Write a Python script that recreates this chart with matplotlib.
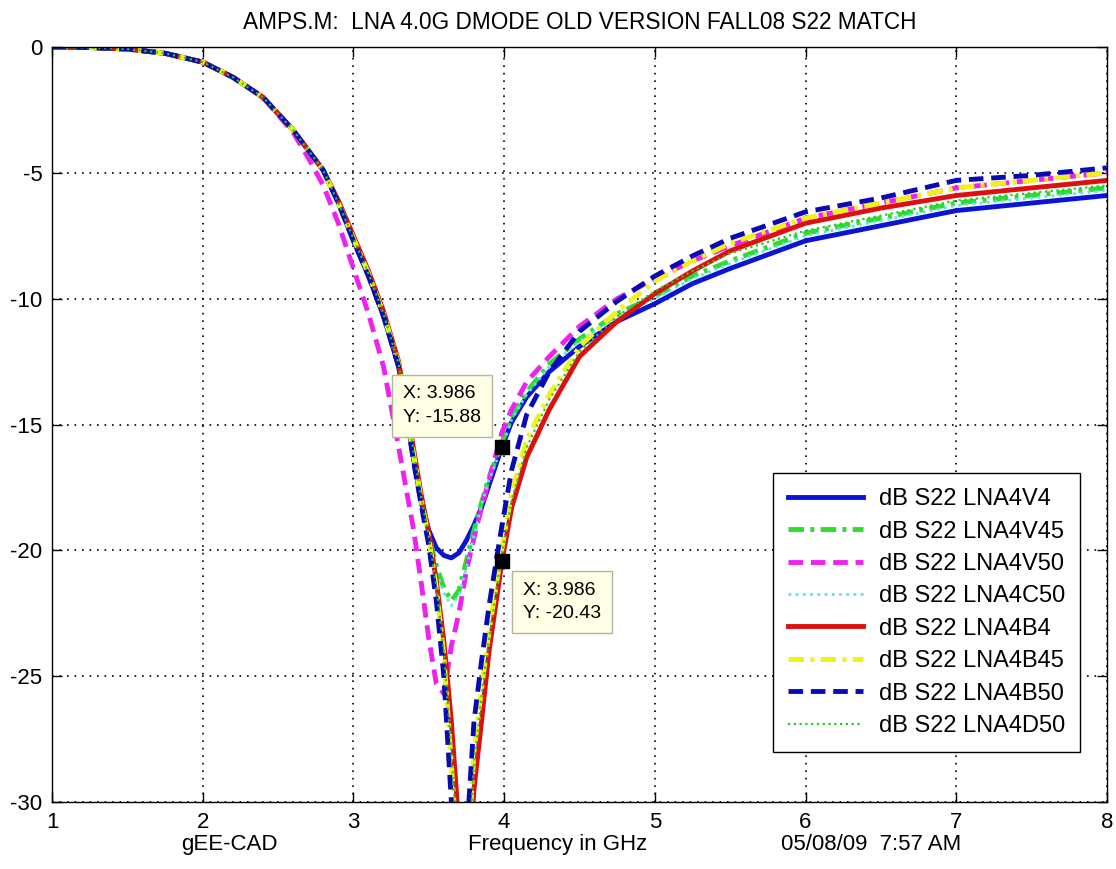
import matplotlib
matplotlib.use("Agg")
import matplotlib.pyplot as plt

plt.rcParams["font.family"] = ["Liberation Sans", "DejaVu Sans"]
plt.rcParams["axes.unicode_minus"] = False

# ── Data ──────────────────────────────────────────────────────────────────────

freq_ghz = [1.0, 1.25, 1.5, 1.75, 2.0, 2.2, 2.4, 2.6, 2.7, 2.8,
            2.9, 3.0, 3.1, 3.2, 3.3, 3.4, 3.45, 3.5, 3.55, 3.6,
            3.65, 3.7, 3.75, 3.8, 3.85, 3.9, 3.986, 4.05, 4.15, 4.3,
            4.5, 4.75, 5.0, 5.25, 5.5, 6.0, 6.5, 7.0, 7.5, 8.0]

s22_lna4v4 = [0.0, -0.02, -0.08, -0.25, -0.6, -1.2, -2.0, -3.3, -4.1, -4.9,
              -6.2, -7.7, -9.1, -10.7, -12.7, -16.4, -18.1, -19.2, -19.9, -20.2,
              -20.3, -20.1, -19.6, -19.0, -18.3, -17.4, -15.88, -14.9, -13.9, -12.9,
              -11.9, -10.9, -10.2, -9.4, -8.8, -7.7, -7.1, -6.5, -6.2, -5.9]

s22_lna4v45 = [0.0, -0.02, -0.08, -0.25, -0.6, -1.2, -2.0, -3.3, -4.1, -4.9,
               -6.2, -7.6, -9.0, -10.6, -12.6, -16.3, -18.0, -19.4, -20.6, -21.5,
               -22.0, -21.6, -20.4, -19.2, -18.1, -17.1, -15.7, -14.7, -13.7, -12.6,
               -11.6, -10.6, -9.9, -9.1, -8.5, -7.4, -6.8, -6.2, -5.9, -5.6]

s22_lna4v50 = [0.0, -0.02, -0.08, -0.25, -0.6, -1.2, -2.0, -3.4, -4.4, -5.5,
               -7.0, -8.8, -10.6, -12.7, -15.9, -19.2, -21.3, -23.5, -25.3, -25.7,
               -23.8, -22.5, -20.8, -19.5, -18.3, -17.2, -15.3, -14.4, -13.3, -12.3,
               -11.1, -10.0, -9.2, -8.5, -7.9, -6.8, -6.2, -5.6, -5.3, -5.0]

s22_lna4c50 = [0.0, -0.02, -0.08, -0.25, -0.6, -1.2, -2.0, -3.3, -4.1, -4.9,
               -6.2, -7.6, -9.0, -10.6, -12.6, -16.3, -18.0, -19.5, -20.8, -21.7,
               -22.2, -21.8, -20.7, -19.4, -18.2, -17.2, -15.9, -14.8, -13.8, -12.7,
               -11.7, -10.7, -10.0, -9.2, -8.6, -7.5, -6.9, -6.3, -6.0, -5.7]

s22_lna4b4 = [0.0, -0.02, -0.08, -0.25, -0.6, -1.2, -2.0, -3.3, -4.1, -4.9,
              -6.1, -7.5, -8.9, -10.5, -12.5, -16.0, -17.8, -19.3, -21.2, -23.6,
              -26.8, -31.0, -34.0, -29.5, -26.8, -24.0, -20.43, -18.3, -16.3, -14.4,
              -12.3, -10.9, -9.8, -8.9, -8.1, -7.0, -6.4, -5.9, -5.6, -5.3]

s22_lna4b45 = [0.0, -0.02, -0.08, -0.25, -0.6, -1.2, -2.0, -3.3, -4.1, -4.9,
               -6.2, -7.6, -9.0, -10.6, -12.6, -16.2, -18.0, -19.5, -21.5, -24.2,
               -28.5, -33.0, -33.0, -28.0, -25.5, -23.2, -19.9, -17.7, -15.6, -13.8,
               -11.9, -10.5, -9.3, -8.5, -7.8, -6.8, -6.2, -5.6, -5.3, -5.0]

s22_lna4b50 = [0.0, -0.02, -0.08, -0.25, -0.6, -1.2, -2.0, -3.3, -4.1, -4.9,
               -6.2, -7.7, -9.1, -10.7, -12.7, -16.5, -18.2, -19.8, -22.0, -25.0,
               -30.0, -35.0, -31.5, -26.8, -24.4, -22.2, -19.0, -16.8, -14.6, -12.9,
               -11.3, -10.1, -9.1, -8.3, -7.6, -6.55, -6.0, -5.3, -5.1, -4.8]

s22_lna4d50 = [0.0, -0.02, -0.08, -0.25, -0.6, -1.2, -2.0, -3.3, -4.1, -4.9,
               -6.2, -7.6, -9.0, -10.6, -12.6, -16.1, -17.9, -19.4, -21.4, -24.0,
               -28.0, -32.5, -33.5, -28.5, -25.8, -23.5, -20.1, -18.0, -15.9, -14.0,
               -12.1, -10.7, -9.7, -8.9, -8.2, -7.3, -6.7, -6.1, -5.8, -5.5]

labels = ["dB S22 LNA4V4", "dB S22 LNA4V45", "dB S22 LNA4V50", "dB S22 LNA4C50",
          "dB S22 LNA4B4", "dB S22 LNA4B45", "dB S22 LNA4B50", "dB S22 LNA4D50"]

tip_x = [3.986, 3.986]
tip_y = [-15.88, -20.43]

# ── Styles (MATLAB-ish) ───────────────────────────────────────────────────────

series = [s22_lna4v4, s22_lna4v45, s22_lna4v50, s22_lna4c50,
          s22_lna4b4, s22_lna4b45, s22_lna4b50, s22_lna4d50]
colors = ["#0a14d2", "#2edc2e", "#ee22ee", "#55e6f0",
          "#dd1010", "#f2f21a", "#0a0ab4", "#22cc22"]
dash = (0, (3.0, 1.6))
dashdot = (0, (3.2, 1.3, 0.8, 1.3))
dot = (0, (1.0, 1.6))
styles = ["-", dashdot, dash, dot, "-", dashdot, dash, dot]
widths = [3.5, 3.5, 3.5, 2.0, 3.5, 3.5, 3.5, 1.6]

fig = plt.figure(figsize=(11.16, 8.69), dpi=100)
ax = fig.add_axes([0.0466, 0.0771, 0.9453, 0.8688])

for y, lab, c, ls, lw in zip(series, labels, colors, styles, widths):
    ax.plot(freq_ghz, y, color=c, linestyle=ls, linewidth=lw, label=lab)

ax.set_xlim(1, 8)
ax.set_ylim(-30, 0)
ax.set_xticks(range(1, 9))
ax.set_yticks(range(-30, 1, 5))
ax.tick_params(direction="in", length=7, width=1, top=True, right=True,
               labelsize=16, pad=7)
ax.grid(True, color="black", linestyle=(0, (1, 3.5)), linewidth=1.2)
for sp in ax.spines.values():
    sp.set_linewidth(1.0)

ax.set_title("AMPS.M:  LNA 4.0G DMODE OLD VERSION FALL08 S22 MATCH",
             fontsize=16.3, pad=13)

# bottom captions
ax.set_xlabel("Frequency in GHz", fontsize=16)
ax.xaxis.set_label_coords(0.479, -0.043)
ax.xaxis.label.set_va("top")
ax.text(0.168, -0.043, "gEE-CAD", transform=ax.transAxes,
        ha="center", va="top", fontsize=16)
ax.text(0.776, -0.043, "05/08/09  7:57 AM", transform=ax.transAxes,
        ha="center", va="top", fontsize=16)

# data tips
ax.plot(tip_x, tip_y, "s", color="black", markersize=10, zorder=5)
tip_box = dict(boxstyle="square,pad=0.55", facecolor="#ffffe6",
               edgecolor="#b4b4a0", linewidth=1)
ax.annotate(f"X: {tip_x[0]}\nY: {tip_y[0]}", (tip_x[0], tip_y[0]),
            xytext=(-15, 15), textcoords="offset points", ha="right",
            va="bottom", multialignment="left", linespacing=1.5,
            fontsize=14, bbox=tip_box, zorder=6)
ax.annotate(f"X: {tip_x[1]}\nY: {tip_y[1]}", (tip_x[1], tip_y[1]),
            xytext=(15, -15), textcoords="offset points", ha="left",
            va="top", multialignment="left", linespacing=1.5,
            fontsize=14, bbox=tip_box, zorder=6)

leg = ax.legend(loc="upper left", bbox_to_anchor=(0.683, 0.436),
                borderaxespad=0, fontsize=17, handlelength=3.2,
                handletextpad=0.64, labelspacing=0.44, borderpad=0.65,
                fancybox=False, framealpha=1, edgecolor="black")
leg.get_frame().set_linewidth(1.0)

fig.savefig("out.png", dpi=100)
